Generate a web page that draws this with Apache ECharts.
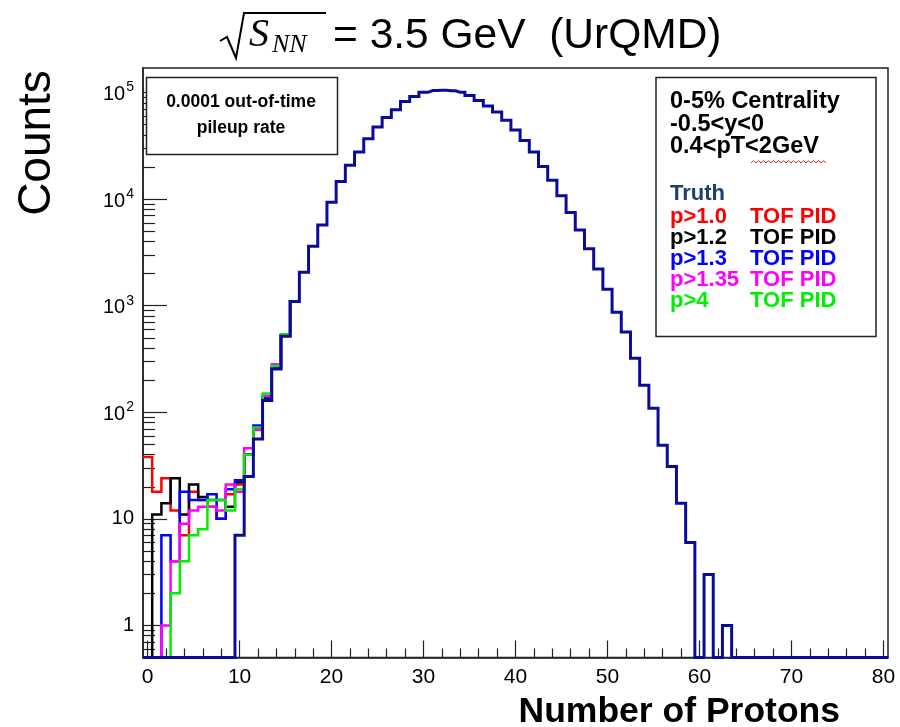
<!DOCTYPE html>
<html><head><meta charset="utf-8">
<script src="https://cdn.jsdelivr.net/npm/echarts@6/dist/echarts.min.js"></script>
<style>html,body{margin:0;padding:0;background:#fff}#c{width:900px;height:727px}</style>
</head><body><div id="c"></div>
<script>
// ---- data: counts per bin, bin index = number of protons (bins centred on integers)
const truth = [
  0, 0, 0, 0, 0, 0, 0, 0, 0, 0,
  7, 25, 56, 129, 255, 518, 1094, 2056, 3606, 5725,
  9355, 14600, 20800, 27660, 36800, 47500, 58400, 69100, 82500, 92000,
  100500, 104500, 105000, 104000, 100500, 94000, 84300, 74800, 65600, 55000,
  44500, 35500, 27700, 20200, 15050, 10760, 7510, 5130, 3430, 2210,
  1425, 866, 567, 322, 179, 109, 49, 31, 14, 6,
  0, 3, 0, 1, 0, 0, 0, 0, 0, 0,
  0, 0, 0, 0, 0, 0, 0, 0, 0, 0, 0
];
// TOF PID selections (bins 0..16; above that they coincide with the truth curve)
const pGt10  = [38, 18, 24, 12, 7, 18, 15, 13, 10, 17, 21, 40, 72, 140, 262, 525, 1100];
const pGt12  = [0, 11, 14, 24, 11, 21, 16, 15, 15, 13, 22, 40, 72, 135, 262, 525, 1100];
const pGt13  = [0, 0, 7, 4, 18, 15, 15, 17, 10, 19, 23, 40, 75, 138, 262, 525, 1100];
const pGt135 = [0, 0, 1, 4, 9, 12, 13, 13, 12, 21, 18, 46, 68, 142, 282, 530, 1100];
const pGt4   = [0, 0, 0, 2, 4, 7, 8, 15, 15, 12, 19, 40, 72, 150, 272, 540, 1100];

const xMajorTicks = [0, 10, 20, 30, 40, 50, 60, 70, 80];
const xMinorTicks = [2,4,6,8,12,14,16,18,22,24,26,28,32,34,36,38,42,44,46,48,52,54,56,58,62,64,66,68,72,74,76,78];
const yMajorTicks = [1, 10, 100, 1000, 10000, 100000];
const yMinorMult = [2, 3, 4, 5, 6, 7, 8, 9];
const yDecades = [0.1, 1, 10, 100, 1000, 10000];

const X_MIN = -0.5, X_MAX = 80.5, Y_MIN = 0.5, Y_MAX = 170000;

const yMinorTicks = [];
yDecades.forEach(d => yMinorMult.forEach(m => {
  const v = +(d * m).toPrecision(3);
  if (v > Y_MIN && v < Y_MAX) yMinorTicks.push(v);
}));

function disp(v) { return v > 0 ? v : Y_MIN; }
function stepPoints(arr) {
  const pts = [[X_MIN, disp(arr[0])]];
  arr.forEach((v, i) => pts.push([i, disp(v)]));
  pts.push([arr.length - 1 + 0.5, disp(arr[arr.length - 1])]);
  return pts;
}
function histSeries(name, arr, color, width, z) {
  return {
    name, type: 'line', step: 'middle', data: stepPoints(arr),
    showSymbol: false, symbol: 'none', z,
    lineStyle: { color, width, join: 'miter', cap: 'butt' },
    clip: true, animation: false, silent: true
  };
}

const chart = echarts.init(document.getElementById('c'), null, { renderer: 'canvas' });
const SANS = '"Liberation Sans", Arial, Helvetica, sans-serif';

function yLabel(v) {
  const e = Math.round(Math.log10(v));
  if (e === 0) return '{b|1}';
  if (e === 1) return '{b|10}';
  return '{b|10}{s|' + e + '}';
}

const legendX = 670, tofX = 750;
const graphics = [
  // title
  { type: 'polyline', shape: { points: [[220, 41], [227, 37], [236, 58], [244, 13], [326, 13]] },
    style: { stroke: '#000', lineWidth: 2, fill: null } },
  { type: 'text', x: 249, y: 35, style: { text: 'S', font: 'italic 40px "Liberation Serif", serif', fill: '#000', verticalAlign: 'middle' } },
  { type: 'text', x: 272, y: 45, style: { text: 'NN', font: 'italic 26px "Liberation Serif", serif', fill: '#000', verticalAlign: 'middle' } },
  { type: 'text', x: 333, y: 36, style: { text: '= 3.5 GeV  (UrQMD)', font: '42.5px ' + SANS, fill: '#000', verticalAlign: 'middle' } },
  // axis titles
  { type: 'text', x: 37, y: 143, rotation: Math.PI / 2,
    style: { text: 'Counts', font: '46px ' + SANS, fill: '#000', align: 'center', verticalAlign: 'middle' } },
  { type: 'text', x: 840, y: 712,
    style: { text: 'Number of Protons', font: 'bold 35.5px ' + SANS, fill: '#000', align: 'right', verticalAlign: 'middle' } },
  // pileup box
  { type: 'rect', shape: { x: 146.5, y: 77.5, width: 191, height: 77 }, style: { fill: '#fff', stroke: '#222', lineWidth: 1.5 }, z: 10 },
  { type: 'text', x: 241, y: 102, z: 11, style: { text: '0.0001 out-of-time', font: 'bold 17.5px ' + SANS, fill: '#000', align: 'center', verticalAlign: 'middle' } },
  { type: 'text', x: 241, y: 128, z: 11, style: { text: 'pileup rate', font: 'bold 17.5px ' + SANS, fill: '#000', align: 'center', verticalAlign: 'middle' } },
  // legend box
  { type: 'rect', shape: { x: 656, y: 77.5, width: 220, height: 259 }, style: { fill: '#fff', stroke: '#222', lineWidth: 1.5 }, z: 10 },
  { type: 'text', x: legendX, y: 102, z: 11, style: { text: '0-5% Centrality', font: 'bold 23.5px ' + SANS, fill: '#000', verticalAlign: 'middle' } },
  { type: 'text', x: legendX, y: 124.5, z: 11, style: { text: '-0.5<y<0', font: 'bold 23.5px ' + SANS, fill: '#000', verticalAlign: 'middle' } },
  { type: 'text', x: legendX, y: 147, z: 11, style: { text: '0.4<pT<2GeV', font: 'bold 23.5px ' + SANS, fill: '#000', verticalAlign: 'middle' } },
  { type: 'text', x: legendX, y: 194, z: 11, style: { text: 'Truth', font: 'bold 22px ' + SANS, fill: '#1b4170', verticalAlign: 'middle' } },
];
const legRows = [
  ['p>1.0', '#ff0000'], ['p>1.2', '#000000'], ['p>1.3', '#0000ff'], ['p>1.35', '#ff00ff'], ['p>4', '#00ee00']
];
legRows.forEach((r, i) => {
  const y = 216.5 + i * 21;
  graphics.push({ type: 'text', x: legendX, y, z: 11, style: { text: r[0], font: 'bold 22px ' + SANS, fill: r[1], verticalAlign: 'middle' } });
  graphics.push({ type: 'text', x: tofX, y, z: 11, style: { text: 'TOF PID', font: 'bold 22px ' + SANS, fill: r[1], verticalAlign: 'middle' } });
});
// spell-check squiggle under "2GeV"
const sq = [];
for (let x = 751, k = 0; x <= 826; x += 2.5, k++) sq.push([x, k % 2 ? 160.5 : 163]);
graphics.push({ type: 'polyline', z: 11, shape: { points: sq }, style: { stroke: '#e0302a', lineWidth: 1, fill: null } });

const option = {
  animation: false,
  backgroundColor: '#fff',
  grid: { left: 143, right: 12, top: 68, bottom: 69.5, show: true, borderColor: '#222', borderWidth: 1.5, backgroundColor: 'transparent' },
  xAxis: [
    { type: 'value', min: X_MIN, max: X_MAX, position: 'bottom',
      axisLine: { show: true, onZero: false, lineStyle: { color: '#222', width: 1.5 } },
      axisTick: { show: true, inside: true, length: 17, customValues: xMajorTicks, lineStyle: { color: '#222', width: 1.2 } },
      axisLabel: { show: true, customValues: xMajorTicks, fontSize: 21, fontFamily: SANS, color: '#000', margin: 9 },
      splitLine: { show: false } },
    { type: 'value', min: X_MIN, max: X_MAX, position: 'bottom',
      axisLine: { show: false, onZero: false },
      axisTick: { show: true, inside: true, length: 9, customValues: xMinorTicks, lineStyle: { color: '#222', width: 1.2 } },
      axisLabel: { show: false }, splitLine: { show: false } }
  ],
  yAxis: [
    { type: 'log', logBase: 10, min: Y_MIN, max: Y_MAX, position: 'left',
      axisLine: { show: true, onZero: false, lineStyle: { color: '#222', width: 1.5 } },
      axisTick: { show: true, inside: true, length: 24, customValues: yMajorTicks, lineStyle: { color: '#222', width: 1.2 } },
      axisLabel: { show: true, customValues: yMajorTicks, margin: 9, formatter: yLabel,
        rich: { b: { fontSize: 20, fontFamily: SANS, color: '#000', verticalAlign: 'bottom' },
                s: { fontSize: 14, fontFamily: SANS, color: '#000', verticalAlign: 'top', padding: [0, 0, 10, 1] } } },
      splitLine: { show: false } },
    { type: 'log', logBase: 10, min: Y_MIN, max: Y_MAX, position: 'left',
      axisLine: { show: false, onZero: false },
      axisTick: { show: true, inside: true, length: 12, customValues: yMinorTicks, lineStyle: { color: '#222', width: 1.2 } },
      axisLabel: { show: false }, splitLine: { show: false } }
  ],
  series: [
    histSeries('p>1.0 TOF PID', pGt10, '#ff0000', 2.5, 2),
    histSeries('p>1.2 TOF PID', pGt12, '#000000', 2.5, 3),
    histSeries('p>1.3 TOF PID', pGt13, '#0000ff', 2.5, 4),
    histSeries('p>1.35 TOF PID', pGt135, '#ff00ff', 2.5, 5),
    histSeries('p>4 TOF PID', pGt4, '#00ee00', 2.5, 6),
    histSeries('Truth', truth, '#0b0b9a', 3, 7)
  ],
  graphic: graphics
};
chart.setOption(option);
</script>
</body></html>
